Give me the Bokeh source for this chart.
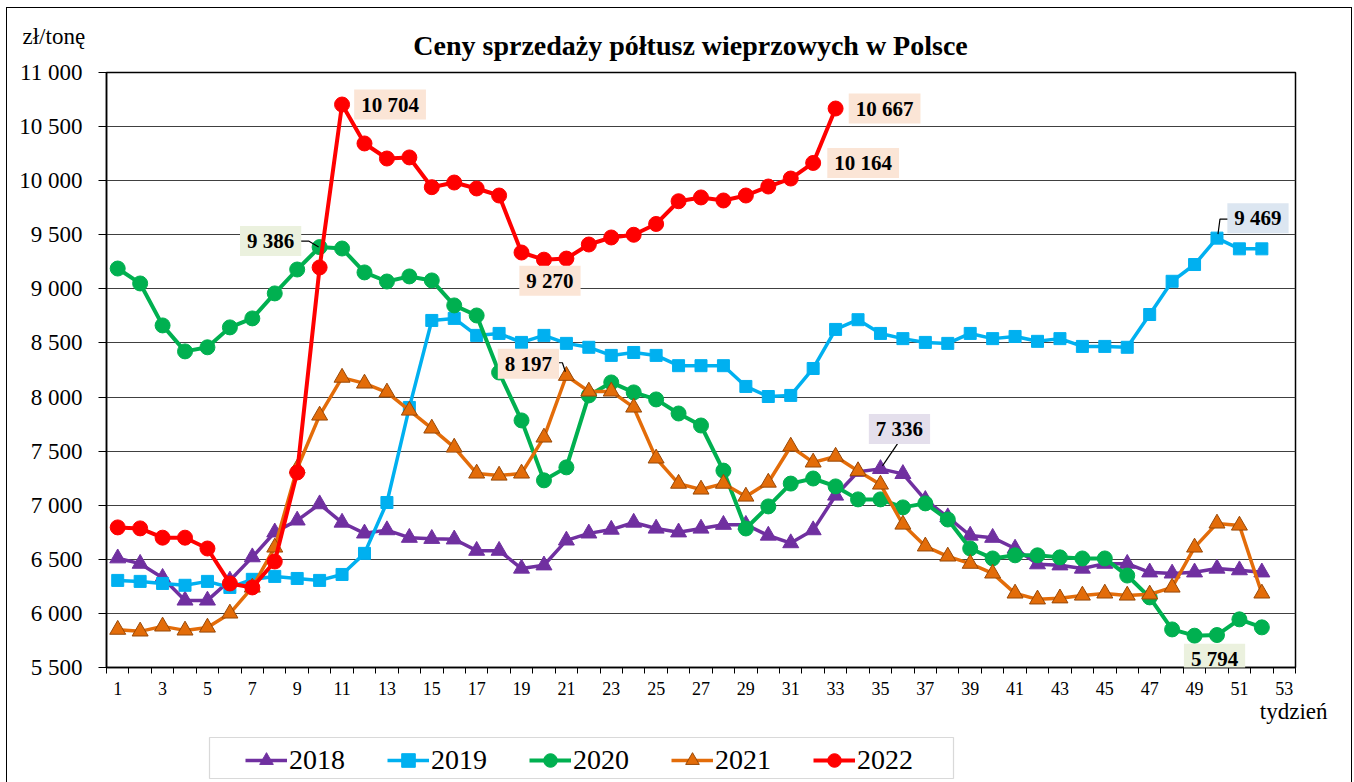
from bokeh.plotting import figure
from bokeh.layouts import column
from bokeh.models import (FixedTicker, Label, Legend, LegendItem, Range1d, Title,
                          BoxAnnotation)
from bokeh.embed import file_html
from bokeh.resources import INLINE

# ---------------- data ----------------
weeks = list(range(1, 53))
y_ticks = [5500, 6000, 6500, 7000, 7500, 8000, 8500, 9000, 9500, 10000, 10500, 11000]
x_labels = list(range(1, 54, 2))

y2018 = [6510, 6460, 6330, 6120, 6120, 6305, 6520, 6750, 6860, 7010,
         6840, 6740, 6770, 6700, 6690, 6685, 6580, 6580, 6415, 6445,
         6675, 6740, 6775, 6840, 6785, 6750, 6785, 6820, 6820, 6720,
         6650, 6770, 7090, 7310, 7336, 7290, 7050, 6890, 6720, 6700,
         6600, 6455, 6445, 6415, 6460, 6460, 6380, 6370, 6380, 6415,
         6400, 6380]
y2019 = [6305, 6296, 6277, 6260, 6296, 6240, 6315, 6342, 6323, 6305,
         6360, 6555, 7025, 7904, 8708, 8727, 8570, 8588, 8505, 8570,
         8496, 8460, 8385, 8412, 8385, 8290, 8290, 8290, 8098, 8005,
         8015, 8264, 8625, 8715, 8588, 8540, 8505, 8496, 8588, 8540,
         8560, 8515, 8540, 8468, 8468, 8460, 8763, 9070, 9225, 9469,
         9370, 9370]
y2020 = [9188, 9050, 8662, 8422, 8460, 8644, 8727, 8958, 9179, 9386,
         9373, 9152, 9068, 9115, 9078, 8847, 8754, 8227, 7784, 7230,
         7350, 8015, 8135, 8043, 7978, 7848, 7737, 7320, 6785, 6989,
         7200, 7247, 7174, 7054, 7054, 6980, 7017, 6868, 6600, 6508,
         6537, 6537, 6518, 6508, 6508, 6350, 6148, 5852, 5794, 5800,
         5945, 5871]
y2021 = [5850, 5834, 5880, 5843, 5870, 6000, 6240, 6610, 7340, 7830,
         8180, 8126, 8043, 7876, 7710, 7534, 7294, 7275, 7294, 7627,
         8197, 8052, 8052, 7904, 7433, 7200, 7146, 7200, 7081, 7210,
         7543, 7396, 7450, 7316, 7192, 6822, 6620, 6527, 6460, 6370,
         6185, 6130, 6140, 6166, 6185, 6166, 6176, 6240, 6610, 6832,
         6813, 6185]
y2022 = [6795, 6786, 6700, 6700, 6600, 6277, 6240, 6480, 7303, 9198,
         10704, 10344, 10205, 10215, 9940, 9983, 9928, 9863, 9336, 9270,
         9280, 9410, 9475, 9500, 9600, 9810, 9845, 9817, 9863, 9946,
         10020, 10164, 10667]

series_names = ["2018", "2019", "2020", "2021", "2022"]
series_values = [y2018, y2019, y2020, y2021, y2022]

title_text = "Ceny sprzedaży półtusz wieprzowych w Polsce"
unit_text = "zł/tonę"
xaxis_text = "tydzień"

# ---------------- styles ----------------
styles = {
    "2018": dict(color="#7030A0", marker="triangle", size=16, line="#7030A0", lw=3.5),
    "2019": dict(color="#00B0F0", marker="square", size=12, line="#00B0F0", lw=3.5),
    "2020": dict(color="#00B050", marker="circle", size=15, line="#00B050", lw=4),
    "2021": dict(color="#E36C09", marker="triangle", size=16, line="#984807", lw=3.5),
    "2022": dict(color="#FF0000", marker="circle", size=15, line="#FF0000", lw=4),
}

FONT = "Liberation Serif"
W, H1, H2 = 1344, 725, 49
FL, FR, FT, FB = 99, 56, 64, 66
X0, X1 = 0.5, 53.5
Y0, Y1 = y_ticks[0], y_ticks[-1]
PXX = (W - FL - FR) / (X1 - X0)
PXY = (H1 - FT - FB) / (Y1 - Y0)
OFFX, OFFY = 7, 8  # page offset of the canvas


def img2data(ix, iy):
    return X0 + (ix - OFFX - FL) / PXX, Y1 - (iy - OFFY - FT) / PXY


def fmt(v):
    return f"{v:,}".replace(",", " ")


p = figure(width=W, height=H1, x_range=Range1d(X0, X1), y_range=Range1d(Y0, Y1),
           output_backend="svg", toolbar_location=None, title=None,
           min_border_left=FL, min_border_right=FR, min_border_top=FT, min_border_bottom=FB)
p.background_fill_color = "white"
p.border_fill_color = "white"
p.outline_line_color = "black"
p.outline_line_width = 1.5

# axes
p.xaxis.ticker = FixedTicker(ticks=x_labels, minor_ticks=[w - 0.5 for w in range(1, 55)])
p.xaxis.major_tick_line_color = None
p.xaxis.major_tick_out = 0
p.xaxis.minor_tick_line_color = "black"
p.xaxis.minor_tick_out = 6
p.xaxis.minor_tick_in = 0
p.xaxis.axis_line_color = "black"
p.xaxis.axis_line_width = 1.5
p.xaxis.major_label_text_font = FONT
p.xaxis.major_label_text_font_size = "18px"
p.xaxis.major_label_text_color = "black"
p.xaxis.major_label_standoff = 8

p.yaxis.ticker = FixedTicker(ticks=y_ticks)
p.yaxis.major_label_overrides = {t: fmt(t) for t in y_ticks}
p.yaxis.minor_tick_line_color = None
p.yaxis.major_tick_out = 8
p.yaxis.major_tick_in = 0
p.yaxis.major_tick_line_color = "black"
p.yaxis.axis_line_color = "black"
p.yaxis.axis_line_width = 1.5
p.yaxis.major_label_text_font = FONT
p.yaxis.major_label_text_font_size = "23px"
p.yaxis.major_label_text_color = "black"
p.yaxis.major_label_standoff = 16

p.xgrid.visible = False
p.ygrid.grid_line_color = "#404040"
p.ygrid.grid_line_width = 1

# series
for name, vals in zip(series_names, series_values):
    st = styles[name]
    xs = weeks[:len(vals)]
    p.line(xs, vals, line_color=st["color"], line_width=st["lw"])
    p.scatter(xs, vals, marker=st["marker"], size=st["size"],
              fill_color=st["color"], line_color=st["line"], line_width=1)

# value labels
PEACH, OLIVE, LAV, BLUE = "#FBE5D6", "#EBF1DE", "#E4DFEC", "#DCE6F1"
# (series, week, dx px, dy px (down positive), bg, leader offsets)
notes = [
    (y2022, 11, 48, 0, PEACH, None),
    (y2022, 33, 49, 0, PEACH, None),
    (y2022, 32, 50, 0, PEACH, None),
    (y2022, 20, 6, 21, PEACH, None),
    (y2020, 10, -49, -6, OLIVE, [(-21, -6), (-11, -6), (-1, 0)]),
    (y2021, 21, -38, -12, PEACH, [(-13, -13), (-4, -13), (-1, -4)]),
    (y2018, 35, 19, -40, LAV, [(17, -25), (2, -3)]),
    (y2019, 50, 41, -20, BLUE, [(1, -4), (3, -19), (13, -19)]),
    (y2020, 49, 20, 23, OLIVE, None),
]
for vals, wk, dxp, dyp, bg, leader in notes:
    v = vals[wk - 1]
    p.add_layout(Label(x=wk, y=v, x_offset=dxp, y_offset=-dyp, text=fmt(v),
                       text_align="center", text_baseline="middle",
                       text_font=FONT, text_font_style="bold", text_font_size="21px",
                       text_color="black", background_fill_color=bg,
                       padding=dict(left=7, right=7, top=3, bottom=3)))
    if leader:
        lx = [wk + ox / PXX for ox, oy in leader]
        ly = [v - oy / PXY for ox, oy in leader]
        p.line(lx, ly, line_color="black", line_width=1.2)

# axis caption under the x axis (right aligned past the frame)
p.add_layout(Title(text=xaxis_text, align="right", offset=-32, standoff=0,
                   vertical_align="middle", text_font=FONT, text_font_style="normal",
                   text_font_size="23px", text_color="black"), "below")

# texts above the frame (side panel, positioned in data coordinates)
tx, ty = img2data(690, 45)
p.add_layout(Label(x=tx, y=ty, text=title_text, text_align="center", text_baseline="middle",
                   text_font=FONT, text_font_style="bold", text_font_size="28px",
                   text_color="black"), "above")
ux, uy = img2data(22, 36)
p.add_layout(Label(x=ux, y=uy, text=unit_text, text_align="left", text_baseline="middle",
                   text_font=FONT, text_font_size="23px", text_color="black"), "above")

# ---------------- legend strip (same horizontal frame as the chart) ----------------
q = figure(width=W, height=H2, x_range=Range1d(X0, X1), y_range=Range1d(0, H2),
           output_backend="svg", toolbar_location=None, title=None,
           x_axis_location=None, y_axis_location=None,
           min_border_left=FL, min_border_right=FR, min_border_top=0, min_border_bottom=0)
q.grid.visible = False
q.outline_line_color = None
q.background_fill_color = "white"
q.border_fill_color = "white"
items = []
for name, vals in zip(series_names, series_values):
    st = styles[name]
    xs = weeks[:len(vals)]
    # the series values lie far above this strip's range, so only the legend glyphs show
    lr = q.line(xs, vals, line_color=st["color"], line_width=st["lw"])
    sr = q.scatter(xs, vals, marker=st["marker"], size=st["size"],
                   fill_color=st["color"], line_color=st["line"], line_width=1)
    items.append(LegendItem(label=name, renderers=[lr, sr]))
# legend frame (page pixels 209..953 x 737..778)
bl, _ = img2data(209, 0)
br, _ = img2data(953, 0)
q.add_layout(BoxAnnotation(left=bl, right=br,
                           bottom=H2 - (778 - OFFY - H1), top=H2 - (737 - OFFY - H1),
                           fill_alpha=0, line_color="#808080", line_width=1.2))
legend = Legend(items=items, orientation="horizontal", location=(139, 5),
                border_line_color=None, background_fill_alpha=0, padding=6, spacing=42,
                glyph_width=42, glyph_height=34, label_height=34, label_standoff=2,
                label_text_font=FONT, label_text_font_size="28px",
                label_text_color="black", margin=0)
q.add_layout(legend, "center")

layout = column(p, q, spacing=0)
layout.styles = {"margin-left": "6px", "margin-top": "7px",
                 "border-left": "1px solid black", "border-top": "1px solid black",
                 "border-right": "1px solid black"}

open("out.html", "w").write(file_html(layout, INLINE))
